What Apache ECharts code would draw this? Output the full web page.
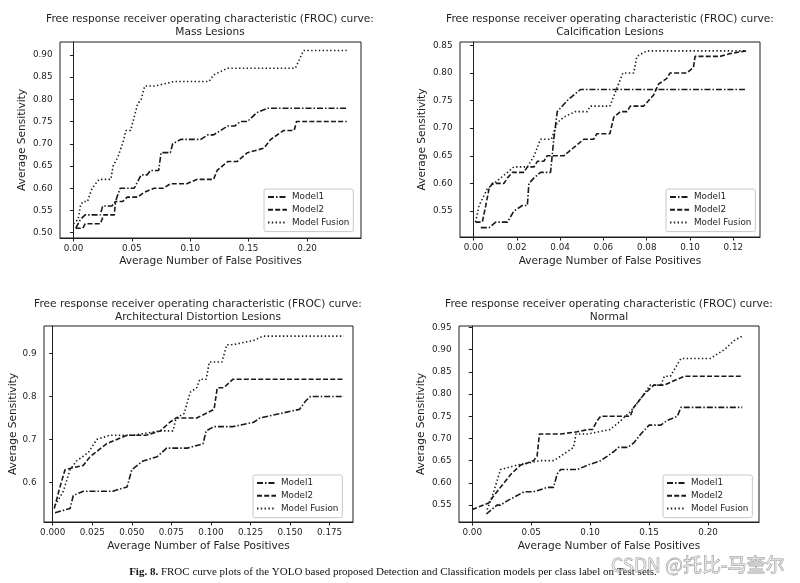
<!DOCTYPE html>
<html>
<head>
<meta charset="utf-8">
<script src="https://cdn.jsdelivr.net/npm/echarts@6/dist/echarts.min.js"></script>
<style>
html,body{margin:0;padding:0;background:#fff;}
#chart{width:800px;height:583px;}
</style>
</head>
<body>
<div id="chart"></div>
<script>
// ---------- data ----------
const seriesNames = ['Model1', 'Model2', 'Model Fusion'];
const titleLine1 = 'Free response receiver operating characteristic (FROC) curve:';
const panelSubtitles = ['Mass Lesions', 'Calcification Lesions', 'Architectural Distortion Lesions', 'Normal'];
const xAxisName = 'Average Number of False Positives';
const yAxisName = 'Average Sensitivity';

// Mass lesions
const massModel1 = [[0.002,0.51],[0.004,0.52],[0.006,0.53],[0.010,0.54],[0.023,0.54],[0.025,0.56],[0.033,0.56],[0.036,0.57],[0.040,0.60],[0.052,0.60],[0.058,0.63],[0.063,0.63],[0.066,0.64],[0.073,0.64],[0.075,0.68],[0.083,0.68],[0.085,0.70],[0.092,0.71],[0.109,0.71],[0.115,0.72],[0.120,0.72],[0.126,0.73],[0.132,0.74],[0.138,0.74],[0.143,0.75],[0.149,0.75],[0.157,0.77],[0.166,0.78],[0.234,0.78]];
const massModel2 = [[0.002,0.51],[0.008,0.51],[0.010,0.52],[0.023,0.52],[0.026,0.54],[0.035,0.54],[0.036,0.57],[0.042,0.57],[0.046,0.58],[0.055,0.58],[0.060,0.59],[0.069,0.60],[0.077,0.60],[0.083,0.61],[0.097,0.61],[0.106,0.62],[0.120,0.62],[0.123,0.64],[0.132,0.66],[0.140,0.66],[0.149,0.68],[0.163,0.69],[0.169,0.71],[0.180,0.73],[0.189,0.73],[0.191,0.75],[0.234,0.75]];
const massFusion = [[0.000,0.52],[0.004,0.53],[0.006,0.56],[0.008,0.57],[0.012,0.57],[0.016,0.60],[0.022,0.62],[0.032,0.62],[0.034,0.65],[0.038,0.67],[0.042,0.70],[0.045,0.73],[0.049,0.73],[0.052,0.76],[0.055,0.79],[0.058,0.80],[0.061,0.83],[0.070,0.83],[0.086,0.84],[0.100,0.84],[0.116,0.84],[0.120,0.855],[0.132,0.87],[0.190,0.87],[0.197,0.91],[0.234,0.91]];

// Calcification lesions
const calcModel1 = [[0.0034,0.52],[0.0072,0.52],[0.0103,0.53],[0.0157,0.53],[0.0187,0.55],[0.0226,0.56],[0.0249,0.56],[0.0256,0.60],[0.028,0.61],[0.031,0.62],[0.0356,0.62],[0.0371,0.68],[0.0387,0.73],[0.0433,0.75],[0.0463,0.76],[0.0494,0.77],[0.126,0.77]];
const calcModel2 = [[0.001,0.53],[0.0041,0.53],[0.0057,0.56],[0.0072,0.59],[0.0087,0.60],[0.0141,0.60],[0.0157,0.61],[0.018,0.62],[0.0233,0.62],[0.0249,0.63],[0.028,0.63],[0.0295,0.64],[0.0325,0.64],[0.034,0.65],[0.0417,0.65],[0.0448,0.66],[0.0479,0.67],[0.051,0.68],[0.0555,0.68],[0.057,0.69],[0.063,0.69],[0.0648,0.72],[0.0678,0.73],[0.0709,0.73],[0.0724,0.74],[0.0786,0.74],[0.0832,0.76],[0.0855,0.78],[0.0893,0.79],[0.0908,0.80],[0.0985,0.80],[0.1016,0.81],[0.1023,0.83],[0.1139,0.83],[0.1185,0.835],[0.126,0.84]];
const calcFusion = [[0.001,0.53],[0.0026,0.56],[0.0064,0.59],[0.0095,0.60],[0.0126,0.61],[0.0157,0.62],[0.0187,0.63],[0.0249,0.63],[0.028,0.65],[0.031,0.68],[0.036,0.68],[0.0387,0.71],[0.0417,0.72],[0.047,0.73],[0.0525,0.73],[0.054,0.74],[0.063,0.74],[0.066,0.77],[0.069,0.80],[0.074,0.80],[0.0755,0.83],[0.080,0.84],[0.125,0.84]];

// Architectural distortion lesions
const archModel1 = [[0.0015,0.53],[0.011,0.54],[0.013,0.57],[0.0194,0.58],[0.038,0.58],[0.047,0.59],[0.050,0.63],[0.057,0.65],[0.066,0.66],[0.072,0.68],[0.085,0.68],[0.095,0.69],[0.097,0.72],[0.102,0.73],[0.114,0.73],[0.127,0.74],[0.131,0.75],[0.156,0.77],[0.160,0.79],[0.163,0.80],[0.184,0.80]];
const archModel2 = [[0.001,0.54],[0.0046,0.59],[0.0078,0.63],[0.0194,0.64],[0.0236,0.66],[0.034,0.69],[0.047,0.71],[0.059,0.71],[0.068,0.72],[0.074,0.74],[0.078,0.75],[0.091,0.75],[0.102,0.77],[0.104,0.82],[0.108,0.82],[0.114,0.84],[0.184,0.84]];
const archFusion = [[0.0015,0.547],[0.0036,0.56],[0.0067,0.58],[0.011,0.63],[0.015,0.65],[0.0226,0.67],[0.0278,0.70],[0.036,0.71],[0.051,0.71],[0.068,0.72],[0.076,0.72],[0.078,0.75],[0.083,0.76],[0.087,0.81],[0.091,0.82],[0.093,0.84],[0.097,0.84],[0.099,0.88],[0.107,0.88],[0.110,0.92],[0.114,0.92],[0.127,0.93],[0.133,0.94],[0.184,0.94]];

// Normal
const normModel1 = [[0.012,0.53],[0.021,0.55],[0.024,0.55],[0.030,0.56],[0.037,0.57],[0.044,0.58],[0.052,0.58],[0.064,0.59],[0.069,0.59],[0.072,0.62],[0.075,0.63],[0.089,0.63],[0.098,0.64],[0.109,0.65],[0.120,0.67],[0.124,0.68],[0.132,0.68],[0.137,0.69],[0.143,0.71],[0.150,0.73],[0.160,0.73],[0.165,0.74],[0.174,0.75],[0.177,0.77],[0.229,0.77]];
const normModel2 = [[0.000,0.54],[0.014,0.555],[0.018,0.57],[0.024,0.59],[0.033,0.62],[0.041,0.64],[0.047,0.645],[0.052,0.65],[0.055,0.66],[0.057,0.71],[0.075,0.71],[0.089,0.715],[0.098,0.72],[0.102,0.72],[0.106,0.74],[0.109,0.75],[0.134,0.75],[0.137,0.77],[0.146,0.80],[0.154,0.82],[0.163,0.82],[0.171,0.83],[0.180,0.84],[0.229,0.84]];
const normFusion = [[0.0127,0.54],[0.017,0.57],[0.024,0.63],[0.038,0.64],[0.058,0.65],[0.069,0.65],[0.075,0.66],[0.086,0.68],[0.088,0.71],[0.098,0.71],[0.117,0.72],[0.126,0.74],[0.134,0.76],[0.143,0.79],[0.151,0.82],[0.160,0.82],[0.163,0.84],[0.168,0.84],[0.177,0.88],[0.202,0.88],[0.214,0.90],[0.222,0.92],[0.229,0.93]];

// tick labels
const massXTicks = [0, 0.05, 0.10, 0.15, 0.20];
const massYTicks = [0.50, 0.55, 0.60, 0.65, 0.70, 0.75, 0.80, 0.85, 0.90];
const calcXTicks = [0, 0.02, 0.04, 0.06, 0.08, 0.10, 0.12];
const calcYTicks = [0.55, 0.60, 0.65, 0.70, 0.75, 0.80, 0.85];
const archXTicks = [0, 0.025, 0.05, 0.075, 0.10, 0.125, 0.15, 0.175];
const archYTicks = [0.6, 0.7, 0.8, 0.9];
const normXTicks = [0, 0.05, 0.10, 0.15, 0.20];
const normYTicks = [0.55, 0.60, 0.65, 0.70, 0.75, 0.80, 0.85, 0.90, 0.95];

const captionBold = 'Fig. 8.';
const captionText = 'FROC curve plots of the YOLO based proposed Detection and Classification models per class label on Test sets.';
const watermark = 'CSDN @托比-马奎尔';

// ---------- layout / style ----------
const FONT = 'DejaVu Sans';
const INK = '#1e1e1e';
const lineTypes = [[6, 2, 1.5, 2], [5, 2.2], [1.4, 2.4]];

const panels = [
  {data: [massModel1, massModel2, massFusion], xt: massXTicks, yt: massYTicks, xd: 2, yd: 2,
   grid: {left: 60, top: 42, width: 301, height: 196}, xr: [-0.0115, 0.2462], yr: [0.488, 0.929],
   titleX: 210, titleTop: 13, xGap: 17.5, yGap: 32, legend: {left: 264, top: 189}},
  {data: [calcModel1, calcModel2, calcFusion], xt: calcXTicks, yt: calcYTicks, xd: 2, yd: 2,
   grid: {left: 460, top: 42, width: 300, height: 195}, xr: [-0.0062, 0.1323], yr: [0.503, 0.856],
   titleX: 610, titleTop: 13, xGap: 18.5, yGap: 32, legend: {left: 666, top: 189}},
  {data: [archModel1, archModel2, archFusion], xt: archXTicks, yt: archYTicks, xd: 3, yd: 1,
   grid: {left: 44, top: 326, width: 309, height: 196}, xr: [-0.0055, 0.1898], yr: [0.5085, 0.9635],
   titleX: 198, titleTop: 298, xGap: 18.5, yGap: 25.5, legend: {left: 253, top: 475}},
  {data: [normModel1, normModel2, normFusion], xt: normXTicks, yt: normYTicks, xd: 2, yd: 2,
   grid: {left: 459, top: 326, width: 300, height: 196}, xr: [-0.0112, 0.2432], yr: [0.512, 0.953],
   titleX: 609, titleTop: 298, xGap: 18.5, yGap: 32.5, legend: {left: 663, top: 475}}
];

const option = {
  animation: false,
  backgroundColor: '#fff',
  title: [], grid: [], xAxis: [], yAxis: [], series: [], legend: [],
  graphic: []
};

panels.forEach((p, i) => {
  option.title.push({
    text: titleLine1 + '\n' + panelSubtitles[i],
    left: p.titleX, top: p.titleTop, textAlign: 'center', padding: 0,
    textStyle: {fontFamily: FONT, fontSize: 10.6, fontWeight: 'normal', color: INK, lineHeight: 12.8}
  });
  option.grid.push(Object.assign({show: true, borderColor: INK, borderWidth: 1, backgroundColor: 'transparent'}, p.grid));
  const tickStyle = {show: true, inside: false, length: 3.5, lineStyle: {color: INK, width: 1}};
  option.xAxis.push({
    type: 'value', gridIndex: i, min: p.xr[0], max: p.xr[1],
    axisLine: {show: true, lineStyle: {color: INK, width: 1}},
    splitLine: {show: false},
    axisTick: Object.assign({customValues: p.xt}, tickStyle),
    axisLabel: {customValues: p.xt, formatter: v => Number(v).toFixed(p.xd), margin: 6.5,
      fontFamily: FONT, fontSize: 8.8, color: INK},
    name: xAxisName, nameLocation: 'middle', nameGap: p.xGap,
    nameTextStyle: {fontFamily: FONT, fontSize: 10.6, color: INK}
  });
  option.yAxis.push({
    type: 'value', gridIndex: i, min: p.yr[0], max: p.yr[1],
    axisLine: {show: true, lineStyle: {color: INK, width: 1}},
    splitLine: {show: false},
    axisTick: Object.assign({customValues: p.yt}, tickStyle),
    axisLabel: {customValues: p.yt, formatter: v => Number(v).toFixed(p.yd), margin: 7.5,
      fontFamily: FONT, fontSize: 8.8, color: INK},
    name: yAxisName, nameLocation: 'middle', nameGap: p.yGap,
    nameTextStyle: {fontFamily: FONT, fontSize: 10.6, color: INK}
  });
  p.data.forEach((arr, k) => {
    option.series.push({
      type: 'line', name: seriesNames[k], xAxisIndex: i, yAxisIndex: i,
      data: arr, symbol: 'none', showSymbol: false,
      lineStyle: {color: '#1a1a1a', width: 1.6, type: lineTypes[k]},
      itemStyle: {color: '#1a1a1a'}
    });
  });
  option.legend.push({
    left: p.legend.left, top: p.legend.top, orient: 'vertical',
    data: seriesNames, selectedMode: false,
    itemWidth: 19, itemHeight: 10, itemGap: 2.8,
    padding: [3, 4, 4, 3],
    itemStyle: {color: 'rgba(0,0,0,0)', borderColor: 'rgba(0,0,0,0)', borderWidth: 0, opacity: 0},
    borderColor: '#c8c8c8', borderWidth: 1, borderRadius: 2, backgroundColor: '#fff',
    textStyle: {fontFamily: FONT, fontSize: 8.8, color: INK, lineHeight: 10}
  });
});

option.graphic.push({
  type: 'text', x: 393, y: 572, z: 10,
  style: {
    text: '{b|' + captionBold + '} ' + captionText,
    align: 'center', verticalAlign: 'middle',
    fontFamily: 'Liberation Serif', fontSize: 11, fill: '#111',
    rich: {b: {fontFamily: 'Liberation Serif', fontSize: 11, fontWeight: 'bold', fill: '#111'}}
  }
});
option.graphic.push({
  type: 'text', x: 611, y: 565, z: 11,
  style: {
    text: watermark, align: 'left', verticalAlign: 'middle',
    fontFamily: 'Noto Sans CJK SC', fontSize: 19,
    fill: 'rgba(255,255,255,0.35)', stroke: 'rgba(120,120,120,0.75)', lineWidth: 0.8
  }
});

const chart = echarts.init(document.getElementById('chart'), null, {renderer: 'canvas'});
chart.setOption(option);
</script>
</body>
</html>
